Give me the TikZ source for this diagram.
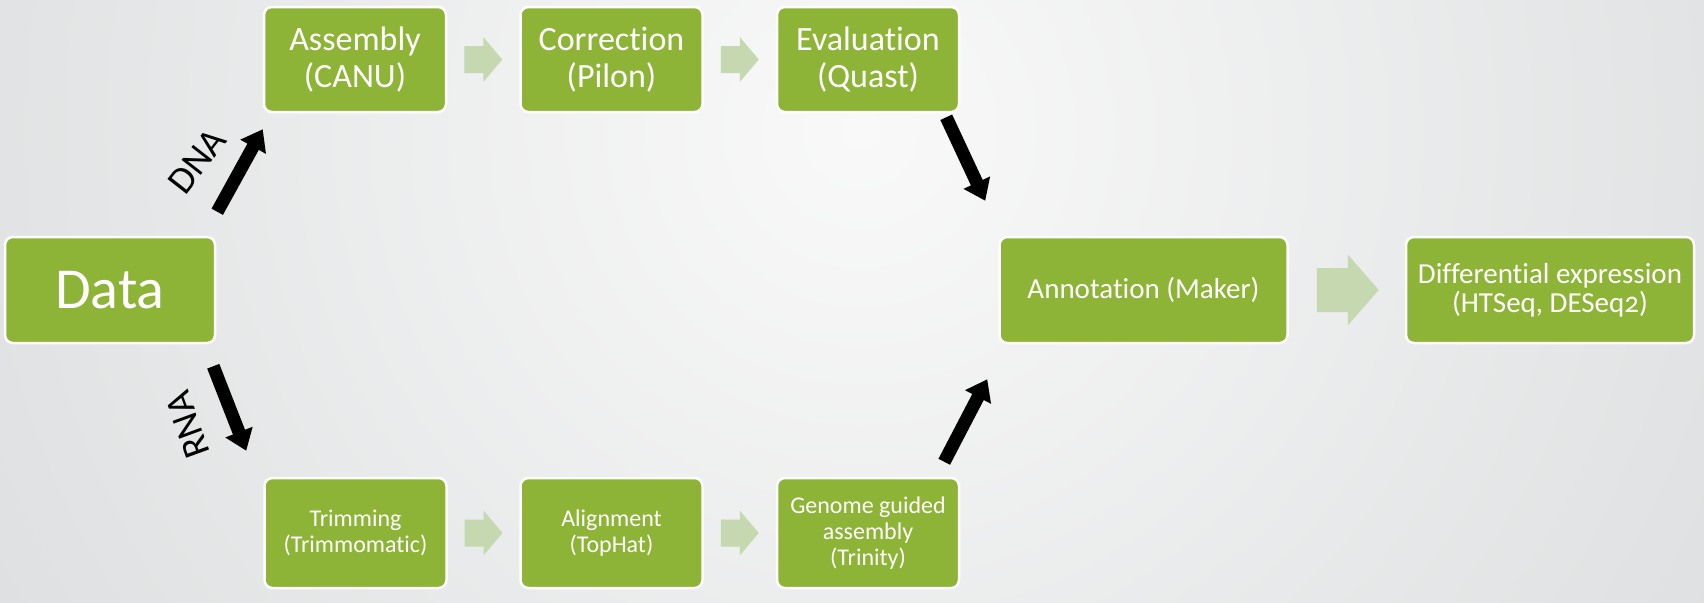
\documentclass[tikz,border=0pt]{standalone}
\usepackage{fontspec}
\setmainfont{Carlito}[Numbers=OldStyle, Ligatures=NoCommon]
\usetikzlibrary{arrows.meta,calc}

\definecolor{boxgreen}{RGB}{141,180,55}
\definecolor{palegreen}{RGB}{197,216,176}
\definecolor{bgedge}{RGB}{194,198,200}
\definecolor{bgmid}{RGB}{249,249,249}

\begin{document}
\begin{tikzpicture}[x=0.5pt, y=-0.5pt,
    box/.style={draw=white, line width=1.25pt, fill=boxgreen, rounded corners=4pt,
      text=white, align=center, inner sep=0pt},
    toprow/.style={box, minimum width=91pt, minimum height=52.5pt, font=\fontsize{17}{18.5}\selectfont},
    botrow/.style={box, minimum width=91pt, minimum height=55pt, font=\fontsize{12}{13}\selectfont},
    midrow/.style={box, minimum width=144pt, minimum height=53pt, font=\fontsize{14.5}{14.5}\selectfont},
    blk/.style={line width=6.5pt, -{Triangle[width=14pt,length=10pt]}},
    lbl/.style={font=\fontsize{19}{19}\selectfont, inner sep=0pt}]

  \useasboundingbox (0,0) rectangle (1704,602);
  \begin{scope}
    \clip (0,0) rectangle (1704,602);
    \shade[inner color=bgmid, outer color=bgedge] (860,130) circle (1000pt);
  \end{scope}

  \node[box, minimum width=105pt, minimum height=53pt, font=\fontsize{29}{29}\selectfont] (data) at (110,290) {Data};

  \node[toprow] (asm) at (355,59.5) {Assembly\\(CANU)};
  \node[toprow] (cor) at (611.5,59.5) {Correction\\(Pilon)};
  \node[toprow] (eva) at (868,59.5) {Evaluation\\(Quast)};

  \node[botrow] (trim) at (355.5,533) {Trimming\\(Trimmomatic)};
  \node[botrow] (ali) at (611.5,533) {Alignment\\(TopHat)};
  \node[botrow] (gen) at (868,533) {Genome guided\\assembly\\(Trinity)};

  \node[midrow] (ann) at (1143.5,290) {Annotation (Maker)};
  \node[midrow] (dex) at (1550,290) {Differential expression\\(HTSeq, DESeq2)};

  \fill[palegreen] ($(asm.east)!0.5!(cor.west)$) +(-19,-13.5) -- +(0,-13.5) -- +(0,-22.5) -- +(19,0) -- +(0,22.5) -- +(0,13.5) -- +(-19,13.5) -- cycle;
  \fill[palegreen] ($(cor.east)!0.5!(eva.west)$) +(-19,-13.5) -- +(0,-13.5) -- +(0,-22.5) -- +(19,0) -- +(0,22.5) -- +(0,13.5) -- +(-19,13.5) -- cycle;
  \fill[palegreen] ($(trim.east)!0.5!(ali.west)$) +(-19,-13.5) -- +(0,-13.5) -- +(0,-22.5) -- +(19,0) -- +(0,22.5) -- +(0,13.5) -- +(-19,13.5) -- cycle;
  \fill[palegreen] ($(ali.east)!0.5!(gen.west)$) +(-19,-13.5) -- +(0,-13.5) -- +(0,-22.5) -- +(19,0) -- +(0,22.5) -- +(0,13.5) -- +(-19,13.5) -- cycle;
  \fill[palegreen] ($(ann.east)!0.5!(dex.west)$) +(-30,-22) -- +(1,-22) -- +(1,-35.5) -- +(32,0) -- +(1,35.5) -- +(1,22) -- +(-30,22) -- cycle;

  \draw[blk] ([shift={(1,-24)}]data.north east) -- ([shift={(0,16)}]asm.south west);
  \draw[blk] ([shift={(-3,22)}]data.south east) -- ([shift={(-17,-26)}]trim.north west);
  \draw[blk] ([shift={(-14,4)}]eva.south east) -- ([shift={(-13,-35)}]ann.north west);
  \draw[blk] ([shift={(-16,-15)}]gen.north east) -- ([shift={(-11,35)}]ann.south west);

  \node[lbl, rotate=52] (dnalbl) at (197,161) {DNA};
  \node[lbl, rotate=110] (rnalbl) at (188,425) {RNA};
\end{tikzpicture}
\end{document}
